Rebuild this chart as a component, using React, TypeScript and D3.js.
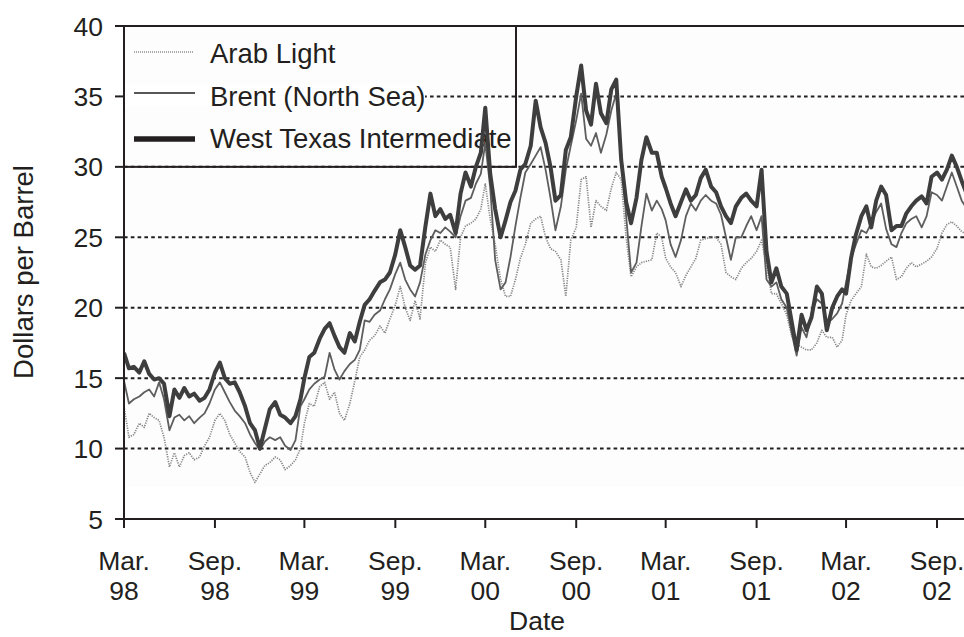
import React from 'react';
import * as d3 from 'd3';

// ~10-day samples starting 1 Mar 1998 (days 1, 11, 21 of each month)
const wti = [16.8,15.7,15.8,15.4,16.2,15.3,14.9,15.0,14.6,12.3,
 14.2,13.6,14.3,13.7,13.9,13.4,13.6,14.2,15.4,16.1,
 15.0,14.6,14.7,14.0,13.0,11.8,11.3,10.0,11.4,12.8,
 13.3,12.4,12.2,11.8,12.3,13.5,15.0,16.5,16.8,17.8,
 18.5,18.9,18.0,17.2,16.8,18.2,17.6,19.0,20.2,20.6,
 21.2,21.8,22.0,22.5,23.8,25.5,24.3,23.0,22.7,23.0,
 25.8,28.1,26.5,27.0,26.3,26.6,25.3,28.1,29.6,28.6,
 30.0,31.0,34.2,29.5,27.0,25.0,26.2,27.5,28.3,29.8,
 30.2,31.5,34.7,32.8,31.7,30.0,27.6,28.0,31.2,32.1,
 35.0,37.2,34.0,33.0,35.9,33.8,33.1,35.5,36.2,30.5,
 27.5,26.0,27.8,30.5,32.1,31.0,31.0,29.3,28.5,27.4,
 26.5,27.5,28.4,27.6,28.0,29.2,29.8,28.6,28.2,27.2,
 26.5,26.0,27.2,27.8,28.1,27.6,27.2,29.8,24.0,21.8,
 22.8,21.5,21.0,19.0,17.0,19.5,18.4,19.3,21.5,21.0,
 18.4,20.0,20.8,21.3,21.0,23.5,25.2,26.5,27.2,25.7,
 27.6,28.6,28.0,25.5,25.8,25.8,26.7,27.2,27.6,27.9,
 27.4,29.3,29.6,29.1,29.8,30.8,30.0,29.0,28.0];

const brent = [14.8,13.2,13.5,13.7,14.0,14.2,13.7,14.7,13.5,11.3,
 12.2,12.4,12.0,12.3,11.8,12.2,12.5,13.2,14.2,14.7,
 14.0,13.3,12.7,12.3,11.8,11.0,10.4,9.9,10.5,10.8,
 10.6,10.8,10.2,9.9,10.6,13.0,13.5,14.2,14.6,14.9,
 15.1,16.8,15.6,14.9,15.5,16.0,16.3,17.0,19.1,19.0,
 19.5,19.8,20.6,21.3,22.4,23.2,22.0,21.3,20.8,21.8,
 23.8,24.8,25.5,25.3,25.7,25.4,25.0,26.5,27.6,27.8,
 28.8,29.5,31.7,28.5,23.4,21.3,21.8,23.6,25.8,27.8,
 29.6,30.2,30.8,31.4,29.8,27.8,25.5,27.2,29.8,31.5,
 33.3,35.2,32.0,31.5,32.4,31.0,32.3,34.0,35.2,31.0,
 26.5,22.5,23.2,25.8,28.1,26.9,27.6,27.0,26.2,24.5,
 23.6,24.8,26.5,27.4,26.9,27.6,28.0,27.6,27.4,26.6,
 25.0,23.4,25.0,25.0,25.8,26.5,25.5,26.5,22.0,21.5,
 21.8,20.6,20.0,18.2,16.6,18.6,17.9,19.6,20.6,20.3,
 18.9,19.2,19.6,20.3,21.8,23.5,24.5,25.5,25.3,26.0,
 26.8,27.4,25.6,24.5,24.3,25.3,26.0,26.3,26.5,25.7,
 26.5,28.2,28.0,27.6,28.6,29.6,28.6,27.6,27.0];

const arabLight = [13.0,10.8,11.0,11.8,11.5,12.5,12.2,12.0,10.8,8.7,
 9.7,8.7,9.5,9.7,9.2,9.4,10.2,10.8,12.0,12.5,
 12.0,11.0,10.4,9.8,9.4,8.3,7.6,8.2,8.8,9.0,
 9.4,9.2,8.5,8.8,9.2,10.0,11.8,13.2,13.0,14.4,
 14.7,13.5,14.0,12.5,12.0,13.2,14.8,16.5,17.0,17.7,
 18.0,18.7,18.2,19.2,20.2,21.5,20.0,19.1,20.5,19.2,
 23.2,24.3,24.0,24.8,24.5,24.3,21.3,25.0,25.8,26.0,
 26.3,27.0,28.8,26.3,24.5,22.0,20.8,20.8,22.0,23.5,
 24.5,26.0,26.3,26.5,25.0,24.2,24.0,23.4,20.8,24.8,
 25.7,29.1,29.3,25.7,27.6,27.2,26.9,28.5,29.6,29.1,
 25.0,22.2,22.9,23.2,23.3,23.4,25.3,25.0,23.5,22.9,
 22.5,21.5,22.3,22.9,23.5,24.8,24.9,25.0,25.0,24.5,
 22.5,22.2,22.0,22.8,23.2,23.5,24.0,24.8,23.0,21.0,
 21.0,20.3,19.5,18.0,17.4,17.2,17.0,17.0,17.5,18.4,
 17.9,17.9,17.2,17.7,19.5,20.5,21.0,21.5,23.8,22.9,
 22.8,23.0,23.3,23.6,22.0,22.2,22.8,23.2,22.9,23.1,
 23.3,23.6,24.2,25.3,25.9,26.1,25.8,25.4,25.2];

const dates = wti.map((_, i) => new Date(1998, 2 + Math.floor(i / 3), 1 + 10 * (i % 3)));

const xTickMonths = ['Mar.', 'Sep.', 'Mar.', 'Sep.', 'Mar.', 'Sep.', 'Mar.', 'Sep.', 'Mar.', 'Sep.'];
const xTickYears = ['98', '98', '99', '99', '00', '00', '01', '01', '02', '02'];
const xTickDates = xTickMonths.map((_, k) => new Date(1998, 2 + 6 * k, 1));
const yTicks = [5, 10, 15, 20, 25, 30, 35, 40];
const gridValues = [10, 15, 20, 25, 30, 35];
const legendLabels = ['Arab Light', 'Brent (North Sea)', 'West Texas Intermediate'];

const W = 964, H = 637;
const FONT = '"Liberation Sans", Arial, sans-serif';
const INK = '#231f20';

export default function App() {
  const x = d3.scaleTime().domain([new Date(1998, 2, 1), new Date(2002, 8, 1)]).range([124, 937]);
  const y = d3.scaleLinear().domain([5, 40]).range([519, 26]);
  const left = x.range()[0];
  const line = d3.line<number>().x((_, i) => x(dates[i])).y((d) => y(d));

  const legendRight = 516;
  const legendRows = [52, 93, 139];
  const legendBase = [63, 106, 148];

  return (
    <svg width={W} height={H} style={{ position: 'absolute', left: 0, top: 0, background: '#fff' }}
      fontFamily={FONT}>
      <defs>
        <clipPath id="plot">
          <rect x={left} y={y(40)} width={W - left} height={y(5) - y(40)} />
        </clipPath>
      </defs>
      <rect x={left} y={y(40)} width={W - left} height={487 - y(40)} fill="#fdfdfd" />

      {/* grid */}
      {gridValues.map((v) => (
        <line key={v} x1={left} x2={W} y1={y(v)} y2={y(v)} stroke={INK} strokeWidth={2}
          strokeDasharray="3.6,3.2" />
      ))}

      {/* legend box */}
      <rect x={left} y={y(40)} width={legendRight - left} height={y(30) - y(40)} fill="none"
        stroke={INK} strokeWidth={2} />
      <rect x={left + 1} y={y(35) - 12} width={300} height={22} fill="#fff" />
      {legendLabels.map((t, k) => (
        <text key={t} x={210} y={legendBase[k]} fontSize={27.5} fill={INK}>{t}</text>
      ))}
      <line x1={134} x2={194} y1={legendRows[0]} y2={legendRows[0]} stroke="#8a8a8a" strokeWidth={1.6}
        strokeDasharray="1,1" />
      <line x1={134} x2={195} y1={legendRows[1]} y2={legendRows[1]} stroke={INK} strokeWidth={1.6} />
      <line x1={134} x2={195} y1={legendRows[2]} y2={legendRows[2]} stroke={INK} strokeWidth={5.5} />

      {/* series */}
      <g clipPath="url(#plot)" fill="none" strokeLinejoin="round">
        <path d={line(arabLight) || ''} stroke="#858585" strokeWidth={1.7} strokeDasharray="1.2,1.2" />
        <path d={line(brent) || ''} stroke="#5e5e5e" strokeWidth={1.8} />
        <path d={line(wti) || ''} stroke="#3e3e3e" strokeWidth={4} />
      </g>

      {/* axes */}
      <line x1={115} x2={W} y1={y(40)} y2={y(40)} stroke={INK} strokeWidth={2} />
      <line x1={left} x2={W} y1={y(5)} y2={y(5)} stroke={INK} strokeWidth={2} />
      <line x1={left} x2={left} y1={y(40)} y2={y(5) + 9} stroke={INK} strokeWidth={2} />
      {yTicks.map((v) => (
        <g key={v}>
          <line x1={115} x2={left} y1={y(v)} y2={y(v)} stroke={INK} strokeWidth={2} />
          <text x={103} y={y(v) + 9.5} textAnchor="end" fontSize={26.5} fill={INK}>{v}</text>
        </g>
      ))}
      {xTickDates.map((d, k) => (
        <g key={k}>
          <line x1={x(d)} x2={x(d)} y1={y(5)} y2={y(5) + 9} stroke={INK} strokeWidth={2} />
          <text x={x(d)} y={570} textAnchor="middle" fontSize={26.5} fill={INK}>{xTickMonths[k]}</text>
          <text x={x(d)} y={600} textAnchor="middle" fontSize={26.5} fill={INK}>{xTickYears[k]}</text>
        </g>
      ))}
      <text x={537} y={630} textAnchor="middle" fontSize={26.5} fill={INK}>Date</text>
      <text transform="translate(33,272) rotate(-90)" textAnchor="middle" fontSize={27.5} fill={INK}>
        Dollars per Barrel
      </text>
    </svg>
  );
}
